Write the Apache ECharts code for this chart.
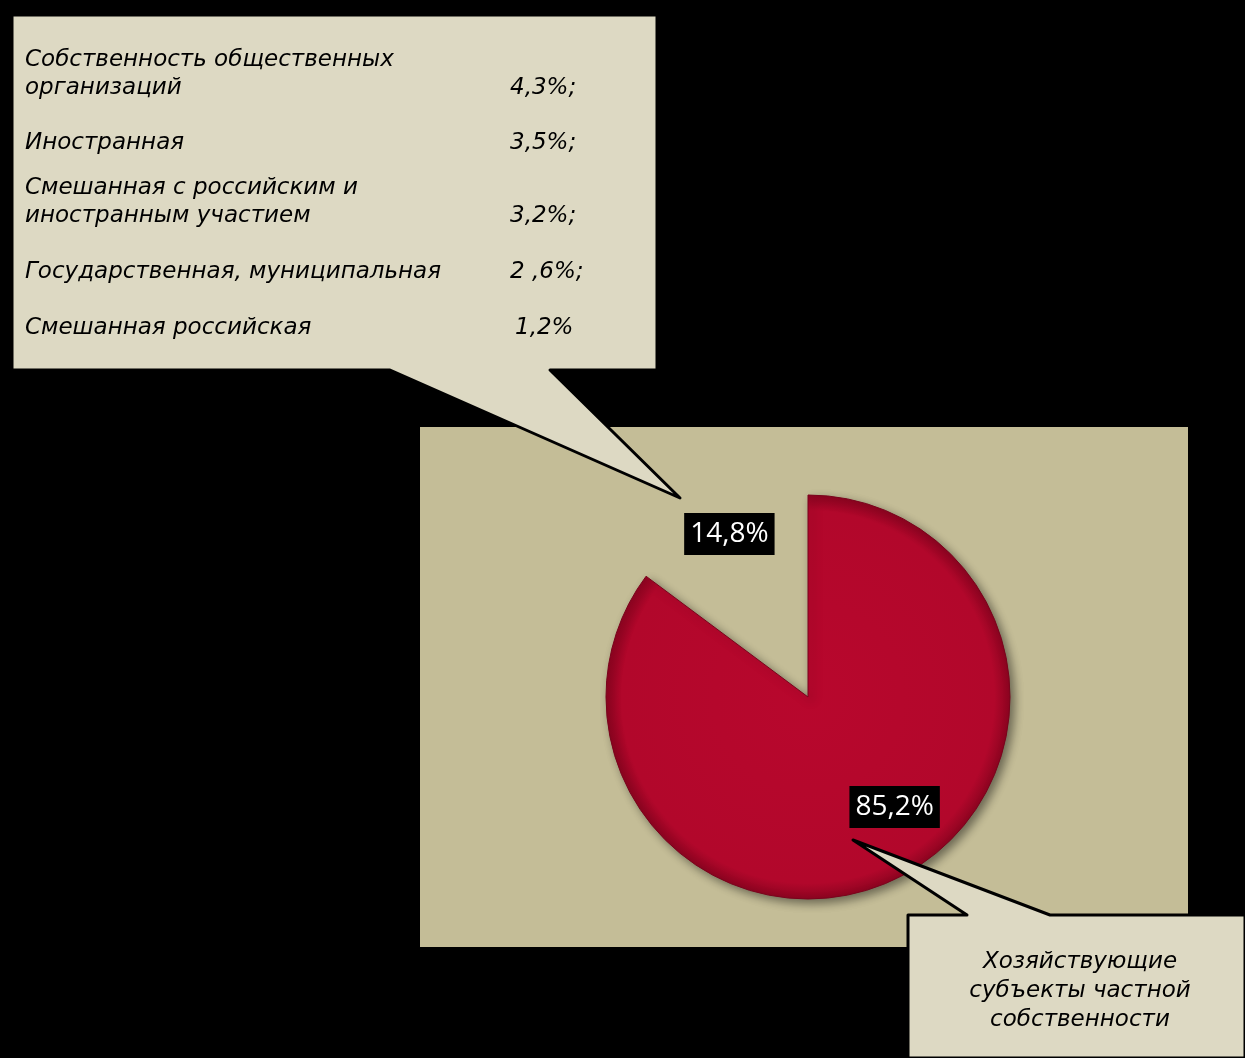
<!DOCTYPE html>
<html>
<head>
<meta charset="utf-8">
<script src="https://cdn.jsdelivr.net/npm/echarts@6/dist/echarts.min.js"></script>
<style>
html,body{margin:0;padding:0;background:#000;}
#chart{width:1245px;height:1058px;}
</style>
</head>
<body>
<div id="chart"></div>
<script>
// ---- data ----
const pieNames = ['Хозяйствующие субъекты частной собственности', 'Прочие формы собственности'];
const pieValues = [85.2, 14.8];
const otherNames = [
  'Собственность общественных\nорганизаций',
  'Иностранная',
  'Смешанная с российским и\nиностранным участием',
  'Государственная, муниципальная',
  'Смешанная российская'
];
const otherValues = [4.3, 3.5, 3.2, 2.6, 1.2];
const otherValueLabels = ['4,3%;', '3,5%;', '3,2%;', '2 ,6%;', '1,2%'];
const privateLabel = 'Хозяйствующие\nсубъекты частной\nсобственности';

// ---- layout / style ----
const FONT = 'italic 23px "DejaVu Sans"';
const calloutFill = '#ddd9c3';
const plotFill = '#c4bd97';
const rowY = [88, 143, 216, 272, 328];   // centers of last line for each row
const valueX = [510, 510, 510, 510, 515];

const chart = echarts.init(document.getElementById('chart'));

const graphics = [
  { type: 'rect', z: 0, shape: { x: 420, y: 427, width: 768, height: 520 }, style: { fill: plotFill } },
  { type: 'polygon', z: 10,
    shape: { points: [[12,15],[657,15],[657,370],[550,370],[680,498],[390,370],[12,370]] },
    style: { fill: calloutFill, stroke: '#000', lineWidth: 3, lineJoin: 'round' } },
  { type: 'polygon', z: 10,
    shape: { points: [[908,915],[967,915],[853,840],[1050,915],[1245,915],[1245,1058],[908,1058]] },
    style: { fill: calloutFill, stroke: '#000', lineWidth: 3, lineJoin: 'round' } },
  { type: 'text', z: 11, style: { text: privateLabel, x: 1080, y: 991, font: FONT, fill: '#000',
      textAlign: 'center', textVerticalAlign: 'middle', lineHeight: 29 } }
];
otherNames.forEach((n, i) => {
  graphics.push({ type: 'text', z: 11, style: { text: n, x: 25, y: rowY[i] + 14, font: FONT, fill: '#000',
      textAlign: 'left', textVerticalAlign: 'bottom', lineHeight: 28 } });
  graphics.push({ type: 'text', z: 11, style: { text: otherValueLabels[i], x: valueX[i], y: rowY[i], font: FONT, fill: '#000',
      textAlign: 'left', textVerticalAlign: 'middle' } });
});

const fmt = v => String(v).replace('.', ',') + '%';

chart.setOption({
  backgroundColor: '#000',
  animation: false,
  graphic: graphics,
  series: [{
    type: 'pie',
    z: 5,
    center: [808, 697],
    radius: 202,
    startAngle: 90,
    clockwise: true,
    silent: true,
    label: {
      show: true,
      position: 'inside',
      formatter: p => fmt(p.value),
      color: '#fff',
      backgroundColor: '#000',
      fontFamily: 'Open Sans',
      fontWeight: 500,
      fontSize: 28,
      padding: [8, 6, 6, 6]
    },
    labelLine: { show: false },
    data: pieNames.map((n, i) => ({
      name: n,
      value: pieValues[i],
      label: { offset: i === 0 ? [40, 17] : [-32, -70] },
      itemStyle: i === 0 ? {
        color: {
          type: 'radial', x: 0.5, y: 0.5, r: 0.5,
          colorStops: [
            { offset: 0, color: '#b8072d' },
            { offset: 0.92, color: '#b2072b' },
            { offset: 1, color: '#8c0420' }
          ]
        },
        borderColor: '#7a031c',
        borderWidth: 1,
        shadowBlur: 10,
        shadowOffsetX: 4,
        shadowOffsetY: 4,
        shadowColor: 'rgba(0,0,0,0.45)'
      } : { color: 'rgba(0,0,0,0)' }
    }))
  }]
});
</script>
</body>
</html>
